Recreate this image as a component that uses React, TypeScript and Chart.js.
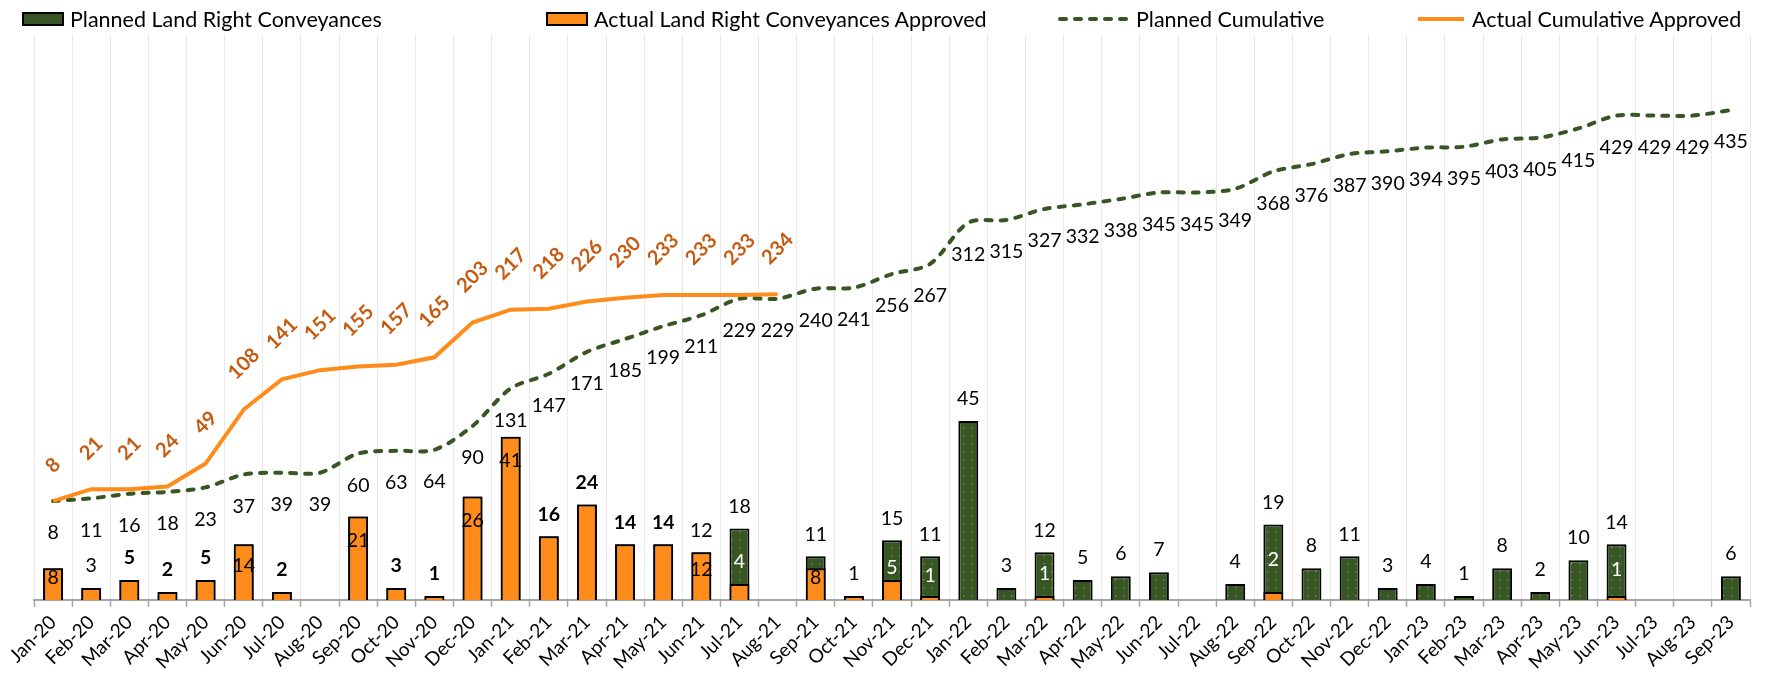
import React, { useEffect, useRef } from 'react';
import { Chart, registerables } from 'chart.js';

Chart.register(...registerables);

const FONT = 'Lato, "Open Sans", sans-serif';

const months = [
  'Jan-20', 'Feb-20', 'Mar-20', 'Apr-20', 'May-20', 'Jun-20', 'Jul-20', 'Aug-20', 'Sep-20', 'Oct-20', 'Nov-20', 'Dec-20',
  'Jan-21', 'Feb-21', 'Mar-21', 'Apr-21', 'May-21', 'Jun-21', 'Jul-21', 'Aug-21', 'Sep-21', 'Oct-21', 'Nov-21', 'Dec-21',
  'Jan-22', 'Feb-22', 'Mar-22', 'Apr-22', 'May-22', 'Jun-22', 'Jul-22', 'Aug-22', 'Sep-22', 'Oct-22', 'Nov-22', 'Dec-22',
  'Jan-23', 'Feb-23', 'Mar-23', 'Apr-23', 'May-23', 'Jun-23', 'Jul-23', 'Aug-23', 'Sep-23',
];

const plannedMonthly = [
  8, 3, 5, 2, 5, 14, 2, 0, 21, 3, 1, 26,
  41, 16, 24, 14, 14, 12, 18, 0, 11, 1, 15, 11,
  45, 3, 12, 5, 6, 7, 0, 4, 19, 8, 11, 3,
  4, 1, 8, 2, 10, 14, 0, 0, 6,
];

const actualMonthly = [
  8, 3, 5, 2, 5, 14, 2, 0, 21, 3, 1, 26,
  41, 16, 24, 14, 14, 12, 4, 0, 8, 1, 5, 1,
  0, 0, 1, 0, 0, 0, 0, 0, 2, 0, 0, 0,
  0, 0, 0, 0, 0, 1, 0, 0, 0,
];

const plannedCumulative = [
  8, 11, 16, 18, 23, 37, 39, 39, 60, 63, 64, 90,
  131, 147, 171, 185, 199, 211, 229, 229, 240, 241, 256, 267,
  312, 315, 327, 332, 338, 345, 345, 349, 368, 376, 387, 390,
  394, 395, 403, 405, 415, 429, 429, 429, 435,
];

const actualCumulative = [
  8, 21, 21, 24, 49, 108, 141, 151, 155, 157, 165, 203,
  217, 218, 226, 230, 233, 233, 233, 234,
];

// how the monthly labels of each month are shown
// in: actual label inside (planned label hidden), in+: actual inside + planned above,
// bold: single bold label above, white: actual label in white on planned bar, '': planned label only
const labelMode = [
  'in', '', 'bold', 'bold', 'bold', 'in', 'bold', '', 'in', 'bold', 'bold', 'in',
  'in', 'bold', 'bold', 'bold', 'bold', 'in+', 'white', '', 'in+', '', 'white', 'white',
  '', '', 'white', '', '', '', '', '', 'white', '', '', '',
  '', '', '', '', '', 'white', '', '', '',
];

const GREEN = '#375623';
const ORANGE = '#FF8C1A';
const ORANGE_TEXT = '#C55A11';
const LABEL_SIZE = 19.5;

function makePattern(): CanvasPattern | string {
  const c = document.createElement('canvas');
  c.width = 8;
  c.height = 8;
  const g = c.getContext('2d');
  if (!g) return GREEN;
  g.fillStyle = GREEN;
  g.fillRect(0, 0, 8, 8);
  g.fillStyle = '#6E9B50';
  g.fillRect(3, 3, 1.4, 1.4);
  return g.createPattern(c, 'repeat') || GREEN;
}

const labelsPlugin = {
  id: 'customLabels',
  afterDatasetsDraw(chart: any) {
    const ctx = chart.ctx as CanvasRenderingContext2D;
    const pMeta = chart.getDatasetMeta(0);
    const aMeta = chart.getDatasetMeta(1);
    const pcMeta = chart.getDatasetMeta(2);
    const acMeta = chart.getDatasetMeta(3);
    ctx.save();
    ctx.textAlign = 'center';
    ctx.textBaseline = 'middle';

    // planned cumulative labels (below points)
    ctx.font = `${LABEL_SIZE}px ${FONT}`;
    ctx.fillStyle = '#000';
    pcMeta.data.forEach((pt: any, i: number) => {
      ctx.fillText(String(plannedCumulative[i]), pt.x, pt.y + 32);
    });

    // actual cumulative labels (rotated, above points)
    ctx.font = `bold 20px ${FONT}`;
    ctx.fillStyle = ORANGE_TEXT;
    acMeta.data.forEach((pt: any, i: number) => {
      const t = String(actualCumulative[i]);
      const w = ctx.measureText(t).width;
      ctx.save();
      ctx.translate(pt.x, pt.y - (31 + w * 0.42));
      ctx.rotate(-Math.PI / 4);
      ctx.fillText(t, 0, 0);
      ctx.restore();
    });

    // monthly bar labels
    months.forEach((_, i) => {
      const mode = labelMode[i];
      const pb = pMeta.data[i].getProps(['x', 'y', 'base'], true);
      const ab = aMeta.data[i].getProps(['x', 'y', 'base'], true);
      if (plannedMonthly[i] > 0 && mode !== 'in') {
        ctx.font = `${mode === 'bold' ? 'bold ' : ''}${LABEL_SIZE}px ${FONT}`;
        ctx.fillStyle = '#000';
        ctx.fillText(String(plannedMonthly[i]), pb.x, Math.min(pb.y, ab.y) - 22);
      }
      if (mode === 'in' || mode === 'in+') {
        ctx.font = `${LABEL_SIZE}px ${FONT}`;
        ctx.fillStyle = '#000';
        const mid = (ab.y + ab.base) / 2;
        ctx.fillText(String(actualMonthly[i]), ab.x, Math.min(ab.y + 24, mid - 6));
      }
      if (mode === 'white') {
        ctx.font = `${LABEL_SIZE}px ${FONT}`;
        ctx.fillStyle = '#fff';
        ctx.fillText(String(actualMonthly[i]), pb.x, (pb.y + pb.base) / 2 - 2);
      }
    });
    ctx.restore();
  },
};

function Legend() {
  const text: React.CSSProperties = {
    position: 'absolute', top: 6, fontFamily: FONT, fontSize: 21.5, color: '#000', whiteSpace: 'nowrap', lineHeight: '26px',
  };
  const box = (left: number, fill: string): React.CSSProperties => ({
    position: 'absolute', left, top: 12, width: 42, height: 14, background: fill, border: '2px solid #000', boxSizing: 'border-box',
  });
  return (
    <div style={{ position: 'absolute', left: 0, top: 0, width: 1765, height: 36 }}>
      <div style={box(22, GREEN)} />
      <div style={{ ...text, left: 70 }}>Planned Land Right Conveyances</div>
      <div style={box(546, ORANGE)} />
      <div style={{ ...text, left: 594 }}>Actual Land Right Conveyances Approved</div>
      <svg style={{ position: 'absolute', left: 1056, top: 14 }} width="74" height="10">
        <line x1="4" y1="5" x2="70" y2="5" stroke={GREEN} strokeWidth="4" strokeDasharray="6 9" strokeLinecap="round" />
      </svg>
      <div style={{ ...text, left: 1136 }}>Planned Cumulative</div>
      <svg style={{ position: 'absolute', left: 1416, top: 14 }} width="50" height="10">
        <line x1="2" y1="5" x2="48" y2="5" stroke={ORANGE} strokeWidth="4" />
      </svg>
      <div style={{ ...text, left: 1472 }}>Actual Cumulative Approved</div>
    </div>
  );
}

export default function App() {
  const canvasRef = useRef<HTMLCanvasElement | null>(null);

  useEffect(() => {
    if (!canvasRef.current) return;
    const pattern = makePattern();
    const chart = new Chart(canvasRef.current, {
      type: 'bar',
      data: {
        labels: months,
        datasets: [
          {
            type: 'bar',
            label: 'Planned Land Right Conveyances',
            data: plannedMonthly,
            backgroundColor: pattern as any,
            borderColor: '#000',
            borderWidth: 2,
            borderSkipped: 'bottom',
            grouped: false,
            categoryPercentage: 0.55,
            barPercentage: 0.95,
            yAxisID: 'y',
            order: 4,
          },
          {
            type: 'bar',
            label: 'Actual Land Right Conveyances Approved',
            data: actualMonthly,
            backgroundColor: ORANGE,
            borderColor: '#000',
            borderWidth: 2,
            borderSkipped: 'bottom',
            grouped: false,
            categoryPercentage: 0.55,
            barPercentage: 0.95,
            yAxisID: 'y',
            order: 3,
          },
          {
            type: 'line',
            label: 'Planned Cumulative',
            data: plannedCumulative,
            borderColor: GREEN,
            borderWidth: 4,
            borderDash: [6, 9],
            borderCapStyle: 'round',
            pointRadius: 0,
            tension: 0.3,
            yAxisID: 'y1',
            order: 1,
          },
          {
            type: 'line',
            label: 'Actual Cumulative Approved',
            data: actualCumulative,
            borderColor: ORANGE,
            borderWidth: 4,
            pointRadius: 0,
            tension: 0,
            yAxisID: 'y1',
            order: 0,
          },
        ] as any,
      },
      options: {
        responsive: true,
        maintainAspectRatio: false,
        animation: false,
        layout: { padding: { left: 34, right: 15, top: 35, bottom: 0 } },
        plugins: {
          legend: { display: false },
          tooltip: { enabled: false },
        },
        scales: {
          x: {
            offset: true,
            grid: {
              offset: true,
              color: '#E9E9E9',
              lineWidth: 1,
              tickLength: 7,
              tickColor: '#A6A6A6',
              tickWidth: 1.5,
            },
            border: { color: '#A6A6A6', width: 2 },
            ticks: {
              autoSkip: false,
              maxRotation: 45,
              minRotation: 45,
              color: '#000',
              padding: 4,
              font: { family: FONT, size: 19 },
            },
            afterFit: (s: any) => {
              s.paddingLeft = 0;
              s.paddingRight = 0;
              s.height = 73;
            },
          },
          y: { display: false, min: 0, max: 142 },
          y1: { display: false, position: 'right', min: -100, max: 517 },
        },
      } as any,
      plugins: [labelsPlugin],
    });
    return () => chart.destroy();
  }, []);

  return (
    <div style={{ position: 'absolute', left: 0, top: 0, width: 1765, height: 673, background: '#fff' }}>
      <canvas ref={canvasRef} />
      <Legend />
    </div>
  );
}
